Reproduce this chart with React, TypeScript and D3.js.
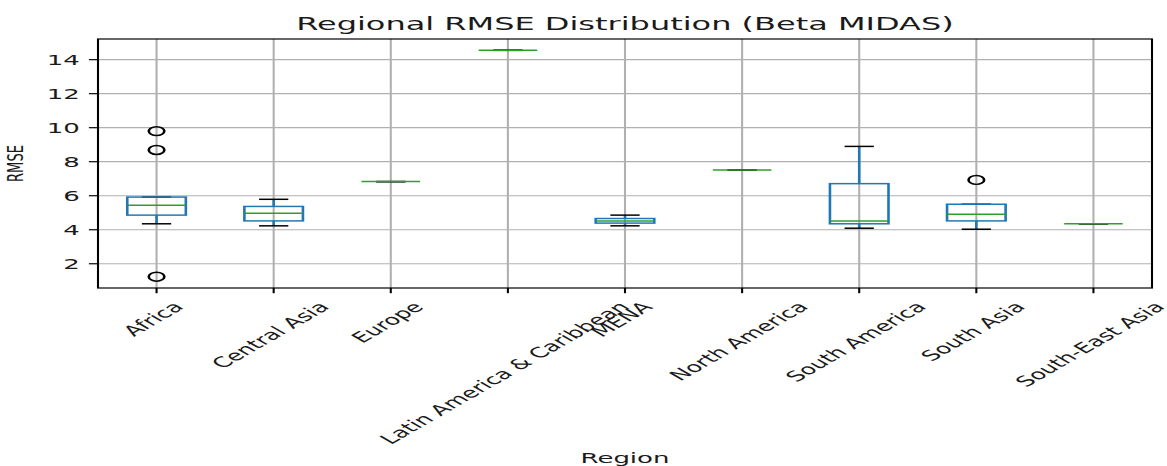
import React, { useMemo } from "react";
import * as d3 from "d3";

const regions = [
  "Africa",
  "Central Asia",
  "Europe",
  "Latin America & Caribbean",
  "MENA",
  "North America",
  "South America",
  "South Asia",
  "South-East Asia",
];
const q1 = [4.86, 4.52, 6.83, 14.55, 4.39, 7.51, 4.35, 4.52, 4.35];
const medians = [5.44, 4.97, 6.83, 14.55, 4.52, 7.51, 4.52, 4.91, 4.35];
const q3 = [5.92, 5.37, 6.83, 14.55, 4.66, 7.51, 6.71, 5.5, 4.35];
const whiskerLow = [4.35, 4.23, 6.83, 14.55, 4.23, 7.51, 4.09, 4.03, 4.35];
const whiskerHigh = [5.92, 5.79, 6.83, 14.55, 4.86, 7.51, 8.9, 5.5, 4.35];
const outliers: number[][] = [[9.8, 8.69, 1.24], [], [], [], [], [], [], [6.93], []];
const yTicks = [2, 4, 6, 8, 10, 12, 14];

const W = 1167;
const H = 466;
// the reference is squashed vertically; draw in a taller space and squeeze it
const K = 1.75;
const font = '"DejaVu Sans", sans-serif';
const PT = 2.6; // virtual px per point

const margin = { left: 98, right: 1152, top: 39 * K, bottom: 288 * K };
const tickFs = 10 * PT;
const xTickFs = 25.2;
const titleFs = 32;

const BLUE = "#1f77b4";
const GREEN = "#2ca02c";

function measure(text: string, size: number) {
  const ctx = document.createElement("canvas").getContext("2d");
  if (!ctx) return text.length * size * 0.6;
  ctx.font = `${size}px "DejaVu Sans"`;
  return ctx.measureText(text).width;
}

export default function App() {
  const all = d3.merge([q1, q3, whiskerLow, whiskerHigh, ...outliers]);
  const [lo, hi] = d3.extent(all) as [number, number];
  const pad = (hi - lo) * 0.05;

  const x = d3.scaleLinear().domain([0.5, regions.length + 0.5]).range([margin.left, margin.right]);
  const y = d3.scaleLinear().domain([lo - pad, hi + pad]).range([margin.bottom, margin.top]);

  const widths = useMemo(() => regions.map((r) => measure(r, xTickFs)), []);

  const lw = 1 * PT;
  const gridW = 0.8 * PT;
  const tickLen = 3.5 * PT;
  const lineH = 1.164 * xTickFs;
  const midY = (margin.top + margin.bottom) / 2;

  return (
    <svg
      width={W}
      height={H}
      style={{ position: "fixed", left: 0, top: 0, background: "#fff" }}
    >
      <g transform={`scale(1, ${1 / K})`} fontFamily={font}>
        {/* grid */}
        {regions.map((r, i) => (
          <line key={"gx" + r} x1={x(i + 1)} x2={x(i + 1)} y1={margin.top} y2={margin.bottom}
            stroke="#b0b0b0" strokeWidth={gridW} />
        ))}
        {yTicks.map((t) => (
          <line key={"gy" + t} x1={margin.left} x2={margin.right} y1={y(t)} y2={y(t)}
            stroke="#b0b0b0" strokeWidth={gridW} />
        ))}

        {/* boxes */}
        {regions.map((r, i) => {
          const c = x(i + 1);
          const bw = x(1.25) - x(1);
          const cw = x(1.125) - x(1);
          return (
            <g key={"b" + r} fill="none">
              <line x1={c} x2={c} y1={y(q1[i])} y2={y(whiskerLow[i])} stroke={BLUE} strokeWidth={lw} />
              <line x1={c} x2={c} y1={y(q3[i])} y2={y(whiskerHigh[i])} stroke={BLUE} strokeWidth={lw} />
              <line x1={c - cw} x2={c + cw} y1={y(whiskerLow[i])} y2={y(whiskerLow[i])} stroke="#000" strokeWidth={lw} />
              <line x1={c - cw} x2={c + cw} y1={y(whiskerHigh[i])} y2={y(whiskerHigh[i])} stroke="#000" strokeWidth={lw} />
              <rect x={c - bw} width={bw * 2} y={y(q3[i])} height={Math.max(0, y(q1[i]) - y(q3[i]))}
                stroke={BLUE} strokeWidth={lw} />
              <line x1={c - bw} x2={c + bw} y1={y(medians[i])} y2={y(medians[i])} stroke={GREEN} strokeWidth={lw} />
              {outliers[i].map((v, j) => (
                <circle key={j} cx={c} cy={y(v)} r={3 * PT} stroke="#000" strokeWidth={lw} />
              ))}
            </g>
          );
        })}

        {/* spines */}
        <rect x={margin.left} y={margin.top} width={margin.right - margin.left}
          height={margin.bottom - margin.top} fill="none" stroke="#000" strokeWidth={gridW} />

        {/* y axis */}
        {yTicks.map((t) => (
          <g key={"yt" + t}>
            <line x1={margin.left - tickLen} x2={margin.left} y1={y(t)} y2={y(t)} stroke="#000" strokeWidth={gridW} />
            <text x={margin.left - tickLen - 3.5 * PT} y={y(t)} dy="0.35em" textAnchor="end"
              fontSize={tickFs} fill="#1a1a1a">{t}</text>
          </g>
        ))}

        {/* x axis */}
        {regions.map((r, i) => {
          const c = x(i + 1);
          const lx = c - 3.5;
          const top = margin.bottom + tickLen + 3.5 * PT;
          const bh = (widths[i] + lineH) * Math.SQRT1_2;
          const cy = top + bh / 2;
          return (
            <g key={"xt" + r}>
              <line x1={c} x2={c} y1={margin.bottom} y2={margin.bottom + tickLen} stroke="#000" strokeWidth={gridW} />
              <text x={lx} y={cy} dy="0.35em" textAnchor="middle" fontSize={xTickFs} fill="#1a1a1a"
                transform={`rotate(-45, ${lx}, ${cy})`}>{r}</text>
            </g>
          );
        })}

        {/* labels */}
        <text x={(margin.left + margin.right) / 2} y={margin.top - 6 * PT} textAnchor="middle"
          fontSize={titleFs} fill="#1a1a1a">Regional RMSE Distribution (Beta MIDAS)</text>
        <text x={(margin.left + margin.right) / 2} y={463 * K} textAnchor="middle"
          fontSize={tickFs} fill="#1a1a1a">Region</text>
        <text x={16} y={midY} dy="0.35em" textAnchor="middle"
          fontSize={21} textLength={37 * K} lengthAdjust="spacingAndGlyphs" fill="#1a1a1a"
          transform={`rotate(-90, 16, ${midY})`}>RMSE</text>
      </g>
    </svg>
  );
}
